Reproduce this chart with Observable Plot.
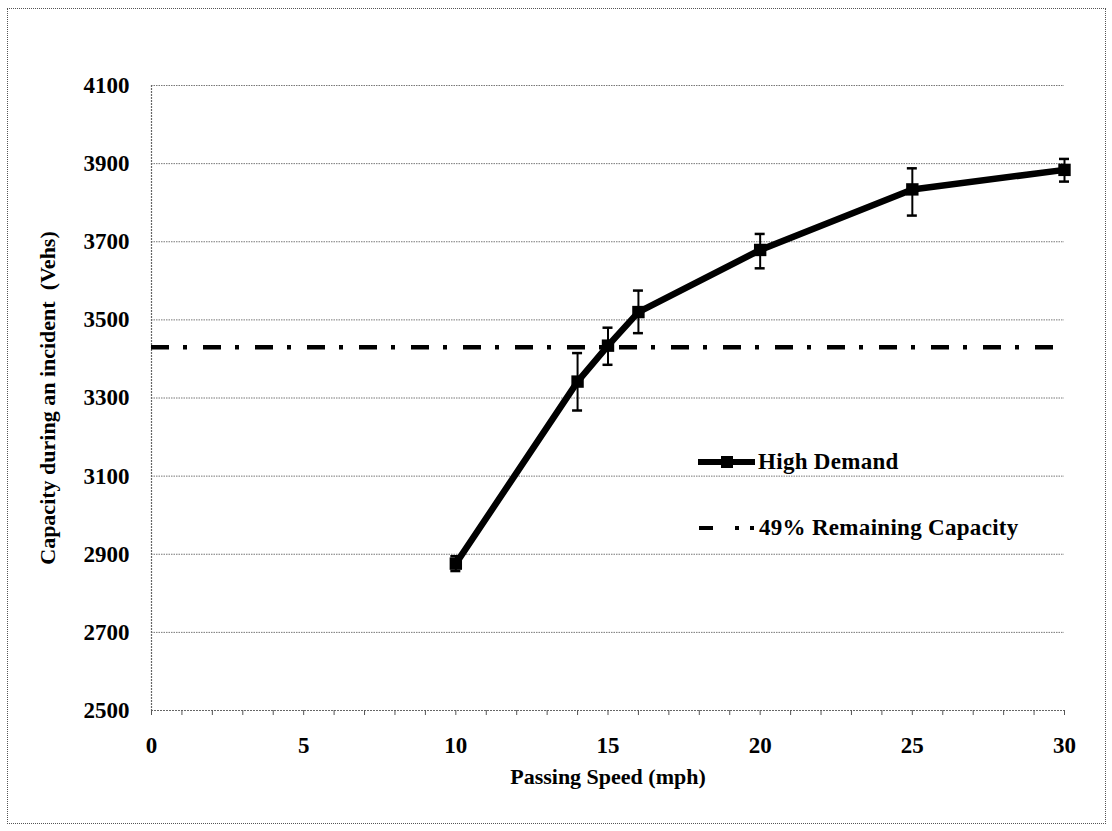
<!DOCTYPE html>
<html>
<head>
<meta charset="utf-8">
<script src="https://cdn.jsdelivr.net/npm/d3@7"></script>
<script src="https://cdn.jsdelivr.net/npm/@observablehq/plot@0.6"></script>
<style>
  html, body { margin: 0; padding: 0; background: #fff; }
  #wrap { position: relative; width: 1112px; height: 831px; font-family: "Liberation Serif", "Times New Roman", serif; }
  #border { position: absolute; left: 7px; top: 8px; width: 1097px; height: 814px; border: 1px dotted #555; pointer-events: none; }
  #chart { position: absolute; left: 0; top: 0; }
  .leg { position: absolute; display: flex; align-items: center; font-weight: bold; font-size: 23px; color: #000; white-space: nowrap; letter-spacing: 0.3px; }
</style>
</head>
<body>
<div id="wrap">
  <div id="chart"></div>
  <div id="border"></div>
  <div class="leg" id="leg1" style="left:697px; top:447px;">
    <svg width="61" height="30"><line x1="1" y1="15" x2="58" y2="15" stroke="#000" stroke-width="6"/><rect x="24" y="9" width="12" height="12" fill="#000"/></svg>
    <span id="leg1t"></span>
  </div>
  <div class="leg" id="leg2" style="left:697px; top:513px;">
    <svg width="62" height="30"><line x1="2" y1="15" x2="60" y2="15" stroke="#000" stroke-width="4" stroke-dasharray="14,22,4,11,4,20"/></svg>
    <span id="leg2t"></span>
  </div>
</div>
<script>
// ---- data ----
const speed = [10, 14, 15, 16, 20, 25, 30];
const capacity = [2876, 3342, 3434, 3520, 3679, 3834, 3884];
const errLow = [2857, 3268, 3385, 3466, 3632, 3767, 3854];
const errHigh = [2895, 3415, 3480, 3575, 3720, 3888, 3912];
const remainingCapacity = 3430;
const seriesNames = ["High Demand", "49% Remaining Capacity"];
const yTicks = [2500, 2700, 2900, 3100, 3300, 3500, 3700, 3900, 4100];
const xTicks = [0, 5, 10, 15, 20, 25, 30];
const xMinorTicks = d3.range(0, 31, 1);
const xTitle = "Passing Speed (mph)";
const yTitle = "Capacity during an incident  (Vehs)";

const rows = speed.map((s, i) => ({x: s, y: capacity[i], lo: errLow[i], hi: errHigh[i]}));

document.getElementById("leg1t").textContent = seriesNames[0];
document.getElementById("leg2t").textContent = seriesNames[1];

const font = "'Liberation Serif', 'Times New Roman', serif";

const chart = Plot.plot({
  width: 1112,
  height: 831,
  marginLeft: 151,
  marginRight: 48,
  marginTop: 85,
  marginBottom: 121,
  style: {fontFamily: font, background: "transparent", color: "#000"},
  x: {domain: [0, 30]},
  y: {domain: [2500, 4100]},
  marks: [
    // gridlines
    Plot.ruleY(yTicks.slice(1), {stroke: "#777", strokeWidth: 1, strokeDasharray: "1.5,1"}),
    // axis lines
    Plot.ruleY([2500], {stroke: "#666", strokeWidth: 1.2, strokeDasharray: "2,1"}),
    Plot.ruleX([0], {stroke: "#666", strokeWidth: 1.2, strokeDasharray: "2,1"}),
    // minor ticks on x axis
    Plot.axisX({ticks: xMinorTicks, tickSize: 5, tickFormat: () => "", stroke: "#555", label: null}),
    Plot.axisX({ticks: xTicks, tickSize: 0, tickPadding: 26, fontSize: 23, fontWeight: "bold", label: null, tickFormat: d => String(d)}),
    Plot.axisY({ticks: yTicks, tickSize: 0, tickPadding: 22, fontSize: 23, fontWeight: "bold", label: null, tickFormat: d => String(d)}),
    // 49% remaining capacity line
    Plot.ruleY([remainingCapacity], {x1: 0, x2: 30, stroke: "#000", strokeWidth: 4.5, strokeDasharray: "18,14,4,16"}),
    // error bars
    Plot.ruleX(rows, {x: "x", y1: "lo", y2: "hi", stroke: "#000", strokeWidth: 2}),
    Plot.ruleY(rows, {y: "lo", x1: "x", x2: "x", insetLeft: -5, insetRight: -5, stroke: "#000", strokeWidth: 2.5}),
    Plot.ruleY(rows, {y: "hi", x1: "x", x2: "x", insetLeft: -5, insetRight: -5, stroke: "#000", strokeWidth: 2.5}),
    // series line
    Plot.line(rows, {x: "x", y: "y", stroke: "#000", strokeWidth: 6.5, strokeLinejoin: "round"}),
    Plot.dot(rows, {x: "x", y: "y", symbol: "square", r: 7, fill: "#000", stroke: "none"}),
    // axis titles
    Plot.text([xTitle], {frameAnchor: "bottom", dy: 73, text: d => d, fontSize: 22, fontWeight: "bold", fill: "#000", textAnchor: "middle"}),
    Plot.text([yTitle], {frameAnchor: "left", dx: -104, rotate: -90, text: d => d, fontSize: 22, fontWeight: "bold", fill: "#000", textAnchor: "middle"})
  ]
});
document.getElementById("chart").appendChild(chart);
</script>
</body>
</html>
